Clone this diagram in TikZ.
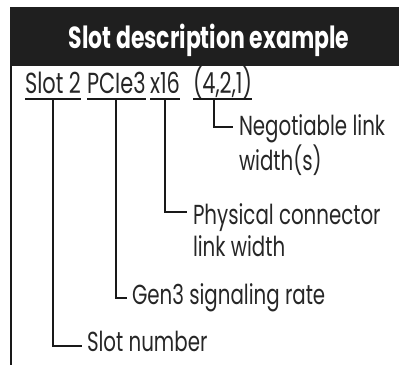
\documentclass[tikz,border=0pt]{standalone}
\usepackage{fontspec}
\setmainfont{Poppins}[FakeStretch=0.72]
\usetikzlibrary{calc}
\begin{document}
\begin{tikzpicture}[x=1pt,y=-1pt,
  every node/.style={inner sep=0pt,outer sep=0pt},
  lbl/.style={anchor=base west,text=black!85,font=\fontsize{27.5}{32}\selectfont,align=left},
  seg/.style={anchor=base west,text=black!85,font=\fontsize{29}{29}\selectfont},
  conn/.style={line width=2pt,black!90}]
\useasboundingbox (0,0) rectangle (399,365);
\fill[black!88] (10,7) rectangle (399,66);
\draw[conn] (11,66) -- (11,365);
\node[anchor=base,text=white,font=\bfseries\fontsize{30.5}{30.5}\selectfont] (title) at (209,48) {Slot description example};
% main text segments
\node[seg] (s1) at (25,93) {Slot 2};
\node[seg] (s2) at (87,93) {PCIe3};
\node[seg] (s3) at (150,93) {x16};
\node[seg] (s4) at (193,93) {(4,2,1)};
% underlines
\foreach \s/\f in {s1/0.5,s2/0.5,s3/0.5,s4/0.35}{
  \draw[conn] ([yshift=-6pt]\s.base west) -- ([yshift=-6pt]\s.base east);
  \coordinate (\s u) at ([yshift=-6pt]$(\s.base west)!\f!(\s.base east)$);
}
% labels (base = last line)
\node[lbl] (l4) at (239,170) {Negotiable link\\width(s)};
\node[lbl] (l3) at (193,256) {Physical connector\\link width};
\node[lbl] (l2) at (132,304) {Gen3 signaling rate};
\node[lbl] (l1) at (87,351) {Slot number};
% connectors
\draw[conn] (s4u) |- ([xshift=-6pt,yshift=43pt]l4.base west);
\draw[conn] (s3u) |- ([xshift=-6pt,yshift=44pt]l3.base west);
\draw[conn] (s2u) |- ([xshift=-5pt,yshift=6pt]l2.base west);
\draw[conn] (s1u) |- ([xshift=-5pt,yshift=5pt]l1.base west);
\end{tikzpicture}
\end{document}
